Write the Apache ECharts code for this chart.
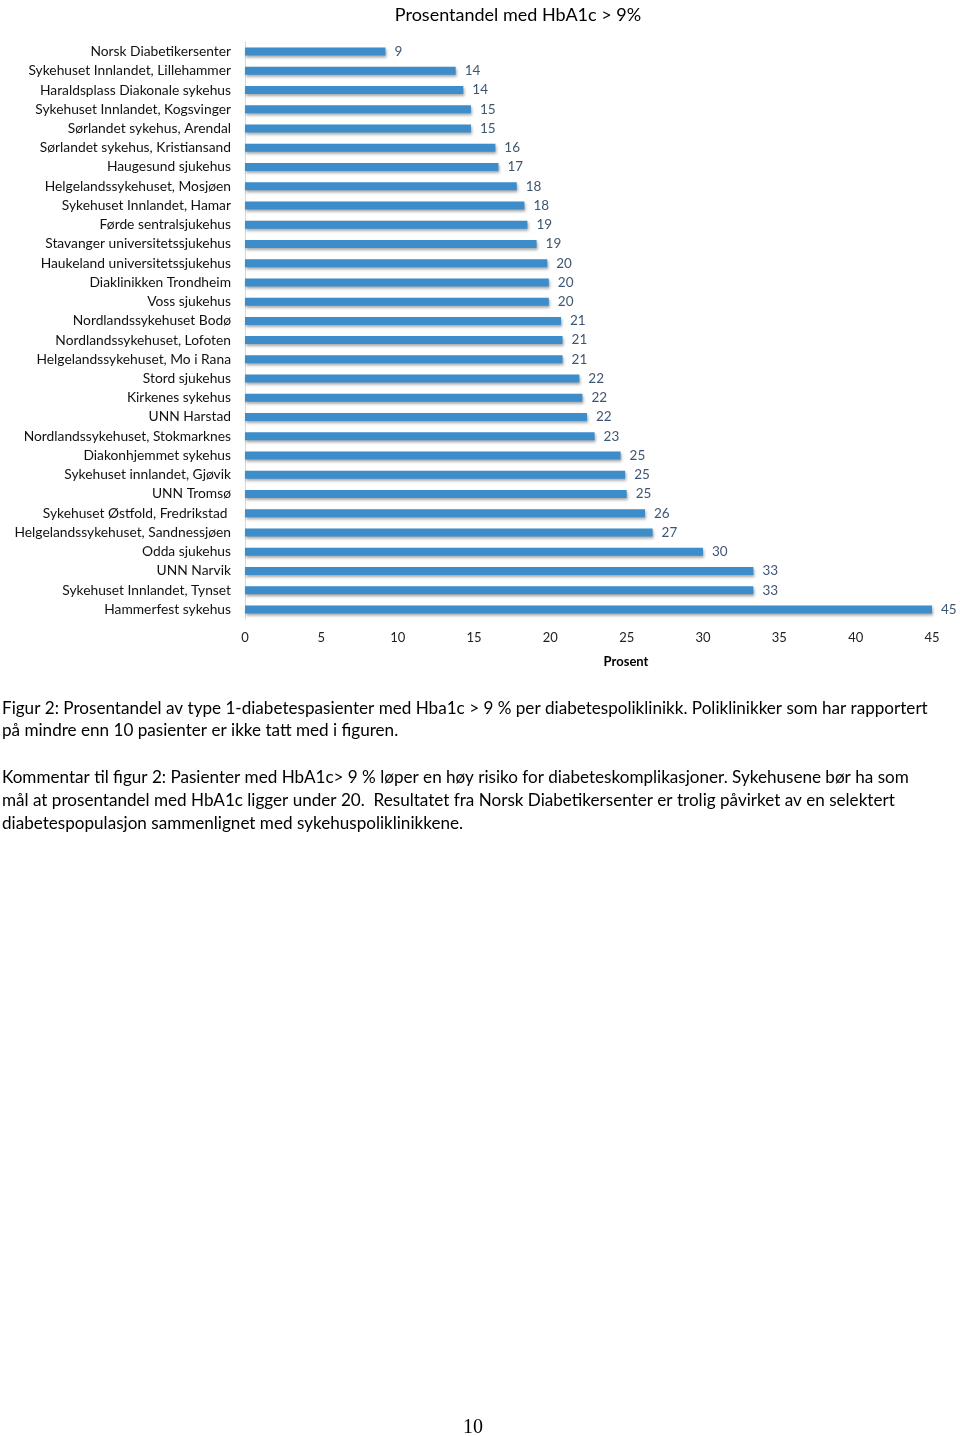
<!DOCTYPE html>
<html>
<head>
<meta charset="utf-8">
<script src="https://cdn.jsdelivr.net/npm/echarts@6/dist/echarts.min.js"></script>
<style>
html,body{margin:0;padding:0;background:#fff;}
#chart{width:960px;height:1436px;}
</style>
</head>
<body>
<div id="chart"></div>
<script>
const titleText = "Prosentandel med HbA1c > 9%";
const axisName = "Prosent";
const categories = [
  "Norsk Diabetikersenter",
  "Sykehuset Innlandet, Lillehammer",
  "Haraldsplass Diakonale sykehus",
  "Sykehuset Innlandet, Kogsvinger",
  "Sørlandet sykehus, Arendal",
  "Sørlandet sykehus, Kristiansand",
  "Haugesund sjukehus",
  "Helgelandssykehuset, Mosjøen",
  "Sykehuset Innlandet, Hamar",
  "Førde sentralsjukehus",
  "Stavanger universitetssjukehus",
  "Haukeland universitetssjukehus",
  "Diaklinikken Trondheim",
  "Voss sjukehus",
  "Nordlandssykehuset Bodø",
  "Nordlandssykehuset, Lofoten",
  "Helgelandssykehuset, Mo i Rana",
  "Stord sjukehus",
  "Kirkenes sykehus",
  "UNN Harstad",
  "Nordlandssykehuset, Stokmarknes",
  "Diakonhjemmet sykehus",
  "Sykehuset innlandet, Gjøvik",
  "UNN Tromsø",
  "Sykehuset Østfold, Fredrikstad ",
  "Helgelandssykehuset, Sandnessjøen",
  "Odda sjukehus",
  "UNN Narvik",
  "Sykehuset Innlandet, Tynset",
  "Hammerfest sykehus"
];
const values = [
  9.2, 13.8, 14.3, 14.8, 14.8, 16.4, 16.6, 17.8, 18.3, 18.5,
  19.1, 19.8, 19.9, 19.9, 20.7, 20.8, 20.8, 21.9, 22.1, 22.4,
  22.9, 24.6, 24.9, 25.0, 26.2, 26.7, 30.0, 33.3, 33.3, 45.0
];
const xTicks = { min: 0, max: 45, interval: 5 };
const caption1 = [
  "Figur 2: Prosentandel av type 1-diabetespasienter med Hba1c > 9 % per diabetespoliklinikk. Poliklinikker som har rapportert",
  "på mindre enn 10 pasienter er ikke tatt med i figuren."
];
const caption2 = [
  "Kommentar til figur 2: Pasienter med HbA1c> 9 % løper en høy risiko for diabeteskomplikasjoner. Sykehusene bør ha som",
  "mål at prosentandel med HbA1c ligger under 20.  Resultatet fra Norsk Diabetikersenter er trolig påvirket av en selektert",
  "diabetespopulasjon sammenlignet med sykehuspoliklinikkene."
];
const pageNumber = "10";

const FONT = "Lato, 'Open Sans', sans-serif";
const chart = echarts.init(document.getElementById('chart'), null, {renderer: 'canvas'});
chart.setOption({
  animation: false,
  backgroundColor: '#ffffff',
  textStyle: { fontFamily: FONT },
  title: [{
    text: titleText,
    left: 513, top: 1, textAlign: 'center',
    textStyle: { fontFamily: FONT, fontSize: 18, fontWeight: 'normal', color: '#000' }
  }, {
    text: axisName,
    left: 621, top: 650, textAlign: 'center',
    textStyle: { fontFamily: FONT, fontSize: 13, fontWeight: 'bold', color: '#000' }
  }],
  grid: { left: 245, right: 28, top: 42, height: 577, containLabel: false },
  xAxis: {
    type: 'value',
    min: xTicks.min, max: xTicks.max, interval: xTicks.interval,
    axisLine: { show: false },
    axisTick: { show: false },
    splitLine: { show: false },
    axisLabel: { margin: 12, fontSize: 13, color: '#222', fontFamily: FONT }
  },
  yAxis: {
    type: 'category',
    data: categories,
    inverse: true,
    axisLine: { show: true, lineStyle: { color: '#d9d9d9', width: 1 } },
    axisTick: { show: false },
    axisLabel: { margin: 14, fontSize: 13.8, color: '#111', fontFamily: FONT, interval: 0 }
  },
  series: [{
    type: 'bar',
    data: values,
    barWidth: 8,
    itemStyle: {
      color: '#3d8dcb',
      shadowColor: 'rgba(0,0,0,0.35)',
      shadowBlur: 3,
      shadowOffsetX: 1,
      shadowOffsetY: 2
    },
    label: {
      show: true,
      position: 'right',
      distance: 9,
      fontSize: 13.5,
      color: '#3f5672',
      fontFamily: FONT,
      formatter: p => String(Math.round(p.value))
    }
  }],
  graphic: [
    {
      type: 'text', left: 2, top: 697,
      style: { text: caption1.join('\n'), font: "17.1px " + FONT, fill: '#000', lineHeight: 22.5 }
    },
    {
      type: 'text', left: 2, top: 766,
      style: { text: caption2.join('\n'), font: "17.1px " + FONT, fill: '#000', lineHeight: 23 }
    },
    {
      type: 'text', left: 463, top: 1418,
      style: { text: pageNumber, font: "20px 'Liberation Serif', serif", fill: '#000' }
    }
  ]
});
</script>
</body>
</html>
